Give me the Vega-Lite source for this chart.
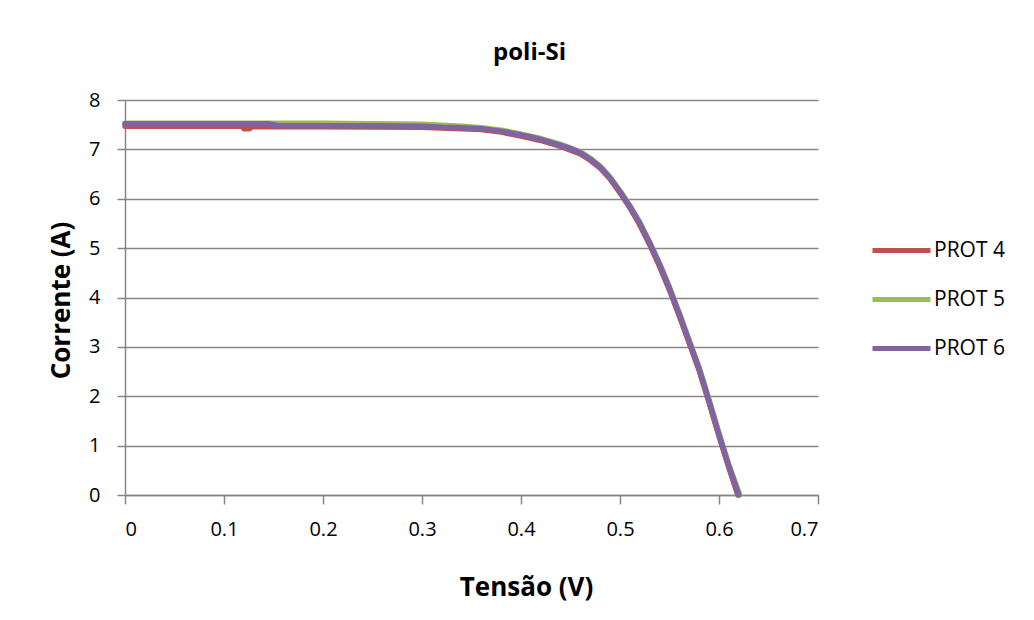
{
  "$schema": "https://vega.github.io/schema/vega-lite/v6.json",
  "width": 693,
  "height": 395,
  "autosize": {"type": "none"},
  "padding": {"left": 125, "top": 100, "right": 216, "bottom": 125},
  "background": "white",
  "title": {
    "text": "poli-Si",
    "font": "Open Sans",
    "fontSize": 24,
    "fontWeight": "bold",
    "color": "#000000",
    "anchor": "middle",
    "frame": "group",
    "dx": 58,
    "dy": 24,
    "baseline": "alphabetic",
    "offset": 30
  },
  "data": {
    "values": [
      {"serie": "PROT 4", "V": 0.0, "I": 7.47},
      {"serie": "PROT 4", "V": 0.05, "I": 7.47},
      {"serie": "PROT 4", "V": 0.1, "I": 7.47},
      {"serie": "PROT 4", "V": 0.118, "I": 7.47},
      {"serie": "PROT 4", "V": 0.12, "I": 7.42},
      {"serie": "PROT 4", "V": 0.126, "I": 7.42},
      {"serie": "PROT 4", "V": 0.128, "I": 7.46},
      {"serie": "PROT 4", "V": 0.2, "I": 7.46},
      {"serie": "PROT 4", "V": 0.3, "I": 7.45},
      {"serie": "PROT 4", "V": 0.34, "I": 7.42},
      {"serie": "PROT 4", "V": 0.36, "I": 7.4},
      {"serie": "PROT 4", "V": 0.38, "I": 7.35},
      {"serie": "PROT 4", "V": 0.4, "I": 7.27},
      {"serie": "PROT 4", "V": 0.42, "I": 7.18},
      {"serie": "PROT 4", "V": 0.44, "I": 7.06},
      {"serie": "PROT 4", "V": 0.46, "I": 6.91},
      {"serie": "PROT 4", "V": 0.47, "I": 6.78},
      {"serie": "PROT 4", "V": 0.48, "I": 6.62},
      {"serie": "PROT 4", "V": 0.49, "I": 6.4},
      {"serie": "PROT 4", "V": 0.5, "I": 6.12},
      {"serie": "PROT 4", "V": 0.51, "I": 5.82},
      {"serie": "PROT 4", "V": 0.52, "I": 5.47},
      {"serie": "PROT 4", "V": 0.53, "I": 5.07},
      {"serie": "PROT 4", "V": 0.54, "I": 4.63},
      {"serie": "PROT 4", "V": 0.55, "I": 4.15},
      {"serie": "PROT 4", "V": 0.56, "I": 3.62},
      {"serie": "PROT 4", "V": 0.57, "I": 3.07},
      {"serie": "PROT 4", "V": 0.58, "I": 2.52},
      {"serie": "PROT 4", "V": 0.59, "I": 1.87},
      {"serie": "PROT 4", "V": 0.6, "I": 1.19},
      {"serie": "PROT 4", "V": 0.61, "I": 0.55},
      {"serie": "PROT 4", "V": 0.619, "I": 0.0},
      {"serie": "PROT 5", "V": 0.0, "I": 7.53},
      {"serie": "PROT 5", "V": 0.1, "I": 7.53},
      {"serie": "PROT 5", "V": 0.2, "I": 7.53},
      {"serie": "PROT 5", "V": 0.3, "I": 7.51},
      {"serie": "PROT 5", "V": 0.32, "I": 7.49},
      {"serie": "PROT 5", "V": 0.34, "I": 7.47},
      {"serie": "PROT 5", "V": 0.36, "I": 7.44},
      {"serie": "PROT 5", "V": 0.38, "I": 7.39},
      {"serie": "PROT 5", "V": 0.4, "I": 7.31},
      {"serie": "PROT 5", "V": 0.42, "I": 7.22},
      {"serie": "PROT 5", "V": 0.44, "I": 7.1},
      {"serie": "PROT 5", "V": 0.46, "I": 6.95},
      {"serie": "PROT 5", "V": 0.47, "I": 6.82},
      {"serie": "PROT 5", "V": 0.48, "I": 6.66},
      {"serie": "PROT 5", "V": 0.49, "I": 6.44},
      {"serie": "PROT 5", "V": 0.5, "I": 6.16},
      {"serie": "PROT 5", "V": 0.51, "I": 5.86},
      {"serie": "PROT 5", "V": 0.52, "I": 5.52},
      {"serie": "PROT 5", "V": 0.53, "I": 5.12},
      {"serie": "PROT 5", "V": 0.54, "I": 4.69},
      {"serie": "PROT 5", "V": 0.55, "I": 4.21},
      {"serie": "PROT 5", "V": 0.56, "I": 3.68},
      {"serie": "PROT 5", "V": 0.57, "I": 3.13},
      {"serie": "PROT 5", "V": 0.58, "I": 2.58},
      {"serie": "PROT 5", "V": 0.59, "I": 1.93},
      {"serie": "PROT 5", "V": 0.6, "I": 1.25},
      {"serie": "PROT 5", "V": 0.61, "I": 0.61},
      {"serie": "PROT 5", "V": 0.621, "I": 0.0},
      {"serie": "PROT 6", "V": 0.0, "I": 7.52},
      {"serie": "PROT 6", "V": 0.05, "I": 7.52},
      {"serie": "PROT 6", "V": 0.1, "I": 7.52},
      {"serie": "PROT 6", "V": 0.145, "I": 7.52},
      {"serie": "PROT 6", "V": 0.155, "I": 7.48},
      {"serie": "PROT 6", "V": 0.2, "I": 7.48},
      {"serie": "PROT 6", "V": 0.25, "I": 7.48},
      {"serie": "PROT 6", "V": 0.3, "I": 7.47},
      {"serie": "PROT 6", "V": 0.32, "I": 7.45},
      {"serie": "PROT 6", "V": 0.34, "I": 7.44},
      {"serie": "PROT 6", "V": 0.36, "I": 7.42},
      {"serie": "PROT 6", "V": 0.38, "I": 7.37},
      {"serie": "PROT 6", "V": 0.39, "I": 7.33},
      {"serie": "PROT 6", "V": 0.4, "I": 7.29},
      {"serie": "PROT 6", "V": 0.41, "I": 7.25},
      {"serie": "PROT 6", "V": 0.42, "I": 7.2},
      {"serie": "PROT 6", "V": 0.43, "I": 7.14},
      {"serie": "PROT 6", "V": 0.44, "I": 7.08},
      {"serie": "PROT 6", "V": 0.45, "I": 7.02},
      {"serie": "PROT 6", "V": 0.46, "I": 6.93},
      {"serie": "PROT 6", "V": 0.47, "I": 6.8},
      {"serie": "PROT 6", "V": 0.48, "I": 6.64},
      {"serie": "PROT 6", "V": 0.49, "I": 6.42},
      {"serie": "PROT 6", "V": 0.5, "I": 6.14},
      {"serie": "PROT 6", "V": 0.51, "I": 5.84},
      {"serie": "PROT 6", "V": 0.52, "I": 5.5},
      {"serie": "PROT 6", "V": 0.53, "I": 5.1},
      {"serie": "PROT 6", "V": 0.54, "I": 4.66},
      {"serie": "PROT 6", "V": 0.55, "I": 4.18},
      {"serie": "PROT 6", "V": 0.56, "I": 3.65},
      {"serie": "PROT 6", "V": 0.57, "I": 3.1},
      {"serie": "PROT 6", "V": 0.58, "I": 2.55},
      {"serie": "PROT 6", "V": 0.59, "I": 1.9},
      {"serie": "PROT 6", "V": 0.6, "I": 1.22},
      {"serie": "PROT 6", "V": 0.61, "I": 0.58},
      {"serie": "PROT 6", "V": 0.62, "I": 0.0}
    ]
  },
  "encoding": {
    "x": {
      "field": "V",
      "type": "quantitative",
      "scale": {"domain": [0, 0.7], "nice": false, "zero": false},
      "axis": {
        "title": "Tensão (V)",
        "values": [0, 0.1, 0.2, 0.3, 0.4, 0.5, 0.6, 0.7],
        "format": "~g",
        "grid": false,
        "tickSize": 9,
        "labelPadding": 15,
        "titleX": 401,
        "titleY": 100,
        "titleAlign": "center",
        "titleBaseline": "alphabetic",
        "titleAnchor": null
      }
    },
    "y": {
      "field": "I",
      "type": "quantitative",
      "scale": {"domain": [0, 8], "nice": false},
      "axis": {
        "title": "Corrente (A)",
        "values": [0, 1, 2, 3, 4, 5, 6, 7, 8],
        "grid": true,
        "tickSize": 8,
        "labelPadding": 17,
        "titleAngle": 270,
        "titleX": -56,
        "titleY": 200,
        "titleAlign": "center",
        "titleBaseline": "alphabetic",
        "titleAnchor": null
      }
    },
    "color": {
      "field": "serie",
      "type": "nominal",
      "scale": {"domain": ["PROT 4", "PROT 5", "PROT 6"], "range": ["#C0504D", "#9BBB59", "#8064A2"]},
      "legend": {
        "title": null,
        "orient": "none",
        "legendX": 745,
        "legendY": 119,
        "symbolType": "stroke",
        "symbolSize": 3364,
        "symbolStrokeWidth": 5,
        "labelFontSize": 21,
        "labelOffset": 1,
        "rowPadding": 7
      }
    },
    "order": {"field": "V", "type": "quantitative"}
  },
  "layer": [
    {
      "transform": [{"filter": "datum.serie === 'PROT 4'"}],
      "mark": {"type": "line", "strokeWidth": 5.5, "strokeCap": "round", "strokeJoin": "round", "clip": false}
    },
    {
      "transform": [{"filter": "datum.serie === 'PROT 5'"}],
      "mark": {"type": "line", "strokeWidth": 5.5, "strokeCap": "round", "strokeJoin": "round", "clip": false}
    },
    {
      "transform": [{"filter": "datum.serie === 'PROT 6'"}],
      "mark": {"type": "line", "strokeWidth": 5.5, "strokeCap": "round", "strokeJoin": "round", "clip": false}
    }
  ],
  "config": {
    "font": "Open Sans",
    "view": {"stroke": null},
    "axis": {
      "domainColor": "#868686",
      "domainWidth": 1.5,
      "gridColor": "#868686",
      "gridWidth": 1.5,
      "gridOpacity": 1,
      "tickColor": "#868686",
      "tickWidth": 1.5,
      "labelColor": "#000000",
      "labelFont": "Open Sans",
      "labelFontSize": 20,
      "titleColor": "#000000",
      "titleFont": "Open Sans",
      "titleFontSize": 26,
      "titleFontWeight": "bold"
    },
    "legend": {
      "labelColor": "#000000",
      "labelFont": "Open Sans"
    }
  }
}
